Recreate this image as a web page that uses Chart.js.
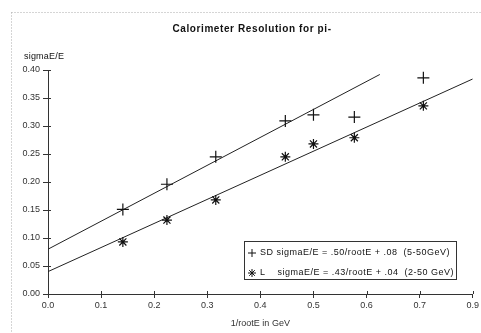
<!DOCTYPE html>
<html>
<head>
<meta charset="utf-8">
<script src="https://cdn.jsdelivr.net/npm/chart.js"></script>
<style>
  html, body { margin: 0; padding: 0; background: #fff; }
  canvas { display: block; }
</style>
</head>
<body>
<canvas id="myChart" width="481" height="333"></canvas>
<script>
// 1/sqrt(E) points
const sdX = [0.141, 0.224, 0.316, 0.447, 0.5, 0.577, 0.707];
const sdY = [0.151, 0.196, 0.245, 0.309, 0.320, 0.316, 0.386];
const lX = [0.141, 0.224, 0.316, 0.447, 0.5, 0.577, 0.707];
const lY = [0.093, 0.132, 0.168, 0.245, 0.268, 0.279, 0.336];

// fitted lines (end points)
const sdFitX = [0, 0.625];
const sdFitY = [0.08, 0.392];
const lFitX = [0, 0.8];
const lFitY = [0.04, 0.384];

const xTickLabels = ["0.0", "0.1", "0.2", "0.3", "0.4", "0.5", "0.6", "0.7", "0.9"];
const yTickLabels = ["0.00", "0.05", "0.10", "0.15", "0.20", "0.25", "0.30", "0.35", "0.40"];

const chartTitle = "Calorimeter Resolution for pi-";
const yTitle = "sigmaE/E";
const xTitle = "1/rootE in GeV";
const legendLabels = [
  "SD sigmaE/E = .50/rootE + .08  (5-50GeV)",
  "L    sigmaE/E = .43/rootE + .04  (2-50 GeV)",
];

const toPoints = (xs, ys) => xs.map((x, i) => ({ x: x, y: ys[i] }));
const ink = "#111";
const fontFamily = "'Liberation Sans', Arial, sans-serif";

function drawMarker(ctx, style, x, y, r) {
  ctx.beginPath();
  ctx.moveTo(x - r, y); ctx.lineTo(x + r, y);
  ctx.moveTo(x, y - r); ctx.lineTo(x, y + r);
  if (style === "star") {
    const d = r * 0.7;
    ctx.moveTo(x - d, y - d); ctx.lineTo(x + d, y + d);
    ctx.moveTo(x - d, y + d); ctx.lineTo(x + d, y - d);
  }
  ctx.stroke();
}

const decorations = {
  id: "decorations",
  afterDraw(chart) {
    const ctx = chart.ctx;
    const area = chart.chartArea;
    ctx.save();

    // dotted frame left over from the printout
    ctx.strokeStyle = "#aaa";
    ctx.lineWidth = 1;
    ctx.setLineDash([1, 2]);
    ctx.beginPath();
    ctx.moveTo(11.5, 12.5); ctx.lineTo(481, 12.5);
    ctx.moveTo(11.5, 12.5); ctx.lineTo(11.5, 333);
    ctx.stroke();
    ctx.setLineDash([]);

    // title and y label
    ctx.fillStyle = ink;
    ctx.textBaseline = "middle";
    ctx.textAlign = "center";
    ctx.letterSpacing = "0.6px";
    ctx.font = "bold 10px " + fontFamily;
    ctx.fillText(chartTitle, 252, 29);
    ctx.textAlign = "left";
    ctx.letterSpacing = "0.2px";
    ctx.font = "9px " + fontFamily;
    ctx.fillText(yTitle, 24, 57);

    // inward half of the tick marks
    ctx.strokeStyle = "#333";
    ctx.beginPath();
    const xs = chart.scales.x, ys = chart.scales.y;
    xs.ticks.forEach((t) => {
      const px = Math.round(xs.getPixelForValue(t.value)) + 0.5;
      ctx.moveTo(px, area.bottom); ctx.lineTo(px, area.bottom - 3);
    });
    ys.ticks.forEach((t) => {
      const py = Math.round(ys.getPixelForValue(t.value)) + 0.5;
      ctx.moveTo(area.left, py); ctx.lineTo(area.left + 3, py);
    });
    ctx.stroke();

    // legend box
    ctx.fillStyle = "#fff";
    ctx.fillRect(244, 241, 212, 38);
    ctx.strokeStyle = "#333";
    ctx.strokeRect(244.5, 241.5, 212, 38);
    ctx.fillStyle = ink;
    ctx.strokeStyle = ink;
    ctx.letterSpacing = "0.5px";
    ctx.font = "9px " + fontFamily;
    const styles = ["cross", "star"];
    legendLabels.forEach((label, i) => {
      const y = 253 + i * 20;
      drawMarker(ctx, styles[i], 252, y, 4);
      ctx.fillText(label, 260, y);
    });
    ctx.restore();
  },
};

const ctx = document.getElementById("myChart");

const myChart = new Chart(ctx, {
  type: "scatter",
  data: {
    datasets: [
      {
        label: legendLabels[0],
        data: toPoints(sdX, sdY),
        pointStyle: "cross",
        pointRadius: 6,
        borderColor: ink,
        borderWidth: 1.2,
      },
      {
        label: legendLabels[1],
        data: toPoints(lX, lY),
        pointStyle: "star",
        pointRadius: 5,
        borderColor: ink,
        borderWidth: 1.2,
      },
      {
        type: "line",
        data: toPoints(sdFitX, sdFitY),
        borderColor: "#222",
        borderWidth: 1,
        pointRadius: 0,
      },
      {
        type: "line",
        data: toPoints(lFitX, lFitY),
        borderColor: "#222",
        borderWidth: 1,
        pointRadius: 0,
      },
    ],
  },
  options: {
    responsive: false,
    animation: false,
    devicePixelRatio: 1,
    layout: { padding: { top: 70, left: 18, right: 6, bottom: 0 } },
    plugins: {
      legend: { display: false },
      title: { display: false },
      tooltip: { enabled: false },
    },
    scales: {
      x: {
        type: "linear",
        min: 0,
        max: 0.8,
        afterFit: (scale) => { scale.height = 39; },
        border: { color: "#333" },
        grid: { drawOnChartArea: false, tickLength: 4, color: "#333" },
        ticks: {
          stepSize: 0.1,
          padding: 2,
          color: "#333",
          font: { family: fontFamily, size: 9 },
          callback: (v, i) => xTickLabels[i],
        },
        title: {
          display: true,
          text: xTitle,
          color: "#333",
          padding: { top: 2, bottom: 4 },
          font: { family: fontFamily, size: 9 },
        },
      },
      y: {
        min: 0,
        max: 0.4,
        afterFit: (scale) => { scale.width = 30; },
        border: { color: "#333" },
        grid: { drawOnChartArea: false, tickLength: 5, color: "#333" },
        ticks: {
          stepSize: 0.05,
          padding: 3,
          color: "#333",
          font: { family: fontFamily, size: 9 },
          callback: (v, i) => yTickLabels[i],
        },
      },
    },
  },
  plugins: [decorations],
});
</script>
</body>
</html>
